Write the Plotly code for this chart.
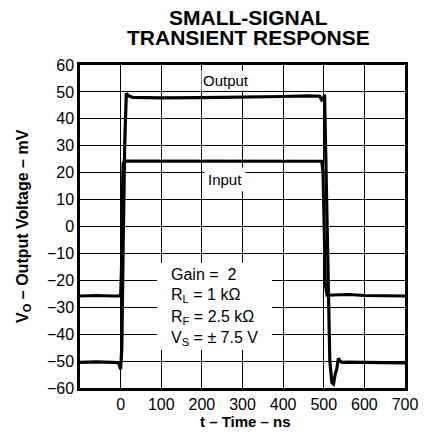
import plotly.graph_objects as go

# Output trace (time in ns, voltage in mV)
out_t = [-100, -60, -20, -5, 0, 3, 6, 10, 14, 20, 30, 60, 100, 200, 300, 400, 460, 480, 490, 495, 499, 502,
         506, 510, 515, 520, 524, 528, 532, 536, 540, 545, 560, 600, 650, 700]
out_v = [-50.5, -50.3, -50.5, -50.6, -53.0, -45.0, -10.0, 30.0, 49.5, 48.5, 48.0, 47.8, 47.8, 47.9, 48.0, 48.3, 48.5,
         48.6, 48.4, 47.0, 47.5, 49.0, 20.0, -20.0, -50.0, -58.0, -58.5, -55.0, -53.0, -49.0, -50.0, -50.5,
         -50.4, -50.5, -50.6, -50.7]

# Input trace
in_t = [-100, -60, -20, -5, 0, 2, 4, 6, 10, 20, 100, 200, 300, 400, 480, 495, 498, 501, 504, 508, 515, 560, 600, 650, 700]
in_v = [-25.8, -25.6, -25.8, -25.8, -25.5, -15.0, 10.0, 23.5, 24.3, 24.3, 24.4, 24.4, 24.4, 24.4, 24.3, 24.2, 20.0,
        -5.0, -22.0, -25.5, -25.5, -25.3, -25.6, -25.7, -25.8]

x_ticks = [0, 100, 200, 300, 400, 500, 600, 700]
y_ticks = [-60, -50, -40, -30, -20, -10, 0, 10, 20, 30, 40, 50, 60]

FONT = "Liberation Sans, Arial, Helvetica, sans-serif"

# Page body margin is removed below, so figure pixels == page pixels.
W, H = 428, 440
PL, PR, PT, PB = 80, 405, 65, 388  # plot area in page pixels
L, T, R, B = PL, PT, W - PR, H - PB

fig = go.Figure()
fig.add_trace(go.Scatter(x=out_t, y=out_v, mode="lines",
                         line=dict(color="black", width=3.2), hoverinfo="skip"))
fig.add_trace(go.Scatter(x=in_t, y=in_v, mode="lines",
                         line=dict(color="black", width=3), hoverinfo="skip"))

fig.update_layout(
    width=W, height=H,
    margin=dict(l=L, r=R, t=T, b=B, autoexpand=False),
    paper_bgcolor="white", plot_bgcolor="white",
    showlegend=False,
    font=dict(family=FONT, color="black", size=15),
)
fig.update_xaxes(range=[-100, 700], tickvals=x_ticks, ticktext=[str(v) for v in x_ticks],
                 showgrid=True, gridcolor="black", gridwidth=1,
                 showline=True, linecolor="black", linewidth=2.5, mirror=True, automargin=False,
                 ticks="", zeroline=False, tickfont=dict(size=16, family=FONT))
fig.update_yaxes(range=[-60, 60], tickvals=y_ticks,
                 ticktext=[("\u2212" + str(-v)) if v < 0 else str(v) for v in y_ticks],
                 showgrid=True, gridcolor="black", gridwidth=1,
                 showline=True, linecolor="black", linewidth=2.5, mirror=True, automargin=False,
                 ticks="", zeroline=False, tickfont=dict(size=16, family=FONT))

pw = PR - PL
ph = PB - PT


def px(xp):
    return (xp - PL) / pw


def py(yp):
    return 1 - (yp - PT) / ph


ann = []
# Title
ann.append(dict(text="<b>SMALL-SIGNAL</b>", x=px(248), y=py(17.5), xref="paper", yref="paper",
                showarrow=False, font=dict(size=21, family=FONT), xanchor="center", yanchor="middle"))
ann.append(dict(text="<b>TRANSIENT RESPONSE</b>", x=px(248), y=py(37.5), xref="paper", yref="paper",
                showarrow=False, font=dict(size=21, family=FONT), xanchor="center", yanchor="middle"))
# Axis titles
ann.append(dict(text="<b>t \u2013 Time \u2013 ns</b>", x=px(245), y=py(421), xref="paper", yref="paper",
                showarrow=False, font=dict(size=15, family=FONT), xanchor="center", yanchor="middle"))
ann.append(dict(text="<b>V<sub>O</sub> \u2013 Output Voltage \u2013 mV</b>", x=px(23), y=py(226),
                xref="paper", yref="paper", textangle=-90,
                showarrow=False, font=dict(size=16, family=FONT), xanchor="center", yanchor="middle"))
# Trace labels
ann.append(dict(text="Output", x=px(226), y=py(80), xref="paper", yref="paper",
                showarrow=False, font=dict(size=15, family=FONT), bgcolor="white", borderpad=1,
                xanchor="center", yanchor="middle"))
ann.append(dict(text="Input", x=px(225), y=py(179), xref="paper", yref="paper",
                showarrow=False, font=dict(size=15, family=FONT), bgcolor="white", borderpad=3,
                xanchor="center", yanchor="middle"))
fig.layout.annotations = ann

# Conditions box (white rectangle covering the grid)
fig.add_shape(type="rect", xref="paper", yref="paper", x0=px(157), x1=px(272), y0=py(350), y1=py(263),
              fillcolor="white", line=dict(width=0), layer="above")
cond = ["Gain =  2", "R<sub>L</sub> = 1 k\u03a9", "R<sub>F</sub> = 2.5 k\u03a9", "V<sub>S</sub> = \u00b1 7.5 V"]
for i, s in enumerate(cond):
    fig.add_annotation(text=s, x=px(169), y=py(274 + 21.5 * i), xref="paper", yref="paper",
                       showarrow=False, font=dict(size=16, family=FONT), xanchor="left", yanchor="middle")

fig.write_html("out.html", config={"displayModeBar": False},
               post_script="document.body.style.margin='0';document.body.style.overflow='hidden';")
